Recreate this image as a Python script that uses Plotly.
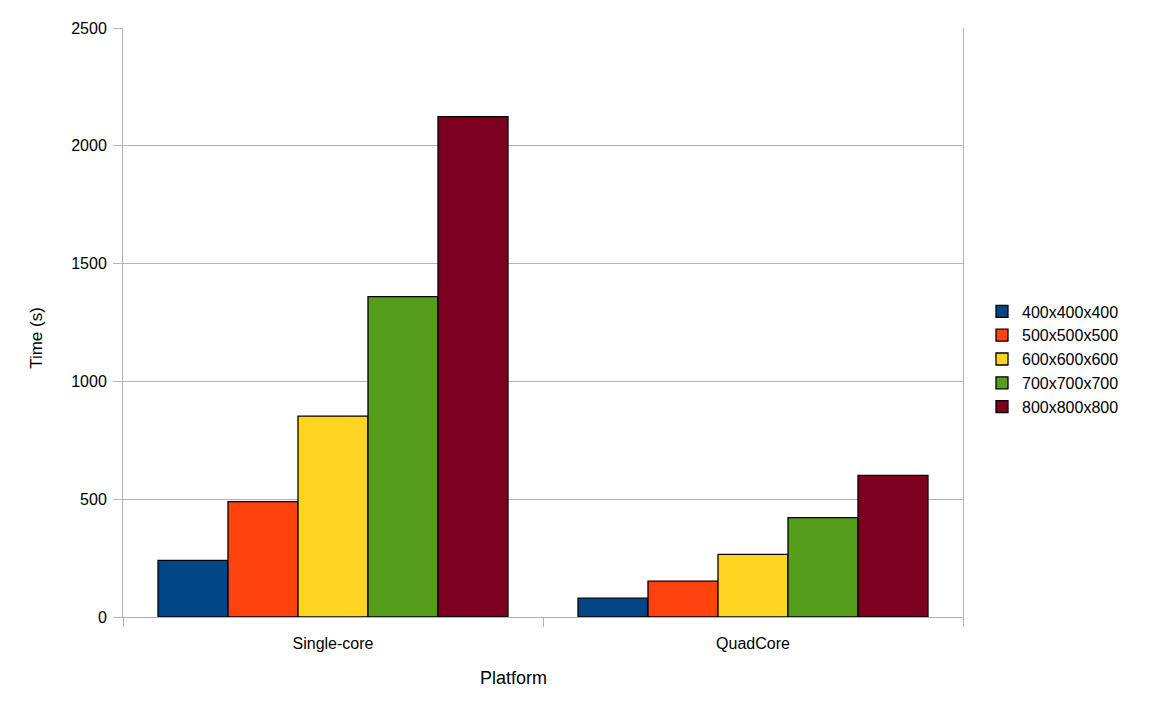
import plotly.graph_objects as go

platforms = ["Single-core", "QuadCore"]
sizes = ["400x400x400", "500x500x500", "600x600x600", "700x700x700", "800x800x800"]
times = {
    "400x400x400": [240, 80],
    "500x500x500": [490, 152],
    "600x600x600": [853, 266],
    "700x700x700": [1360, 422],
    "800x800x800": [2124, 601],
}
colors = ["#004586", "#ff420e", "#ffd320", "#579d1c", "#7e0021"]
y_ticks = [0, 500, 1000, 1500, 2000, 2500]

FONT = "Liberation Sans, Arial, sans-serif"

fig = go.Figure()
for s, c in zip(sizes, colors):
    fig.add_trace(go.Bar(
        x=platforms, y=times[s], name=s,
        marker=dict(color=c, line=dict(color="#000000", width=1.3)),
    ))

fig.update_layout(
    width=1144, height=712,
    barmode="group", bargap=0.1667, bargroupgap=0,
    plot_bgcolor="#ffffff", paper_bgcolor="#ffffff",
    margin=dict(l=115, r=189, t=14, b=103),
    font=dict(family=FONT, size=16, color="#000000"),
    showlegend=True,
    legend=dict(
        x=1 + (982 - 963) / 840, xanchor="left", y=0.438, yanchor="middle",
        font=dict(family=FONT, size=16, color="#000000"),
        itemwidth=30, tracegroupgap=0,
        bgcolor="rgba(0,0,0,0)",
    ),
    xaxis=dict(
        showline=True, linecolor="#b3b3b3", linewidth=1,
        ticks="outside", tickson="boundaries", ticklen=9, tickcolor="#b3b3b3",
        showgrid=False, tickfont=dict(size=16), zeroline=False,
        ticklabelstandoff=12,
    ),
    yaxis=dict(
        range=[0, 2500], tickvals=y_ticks,
        showline=True, linecolor="#b3b3b3", linewidth=1, mirror=True,
        ticks="outside", ticklen=9, tickcolor="#b3b3b3",
        showgrid=True, gridcolor="#b3b3b3", gridwidth=1,
        zeroline=False, tickfont=dict(size=16), ticklabelstandoff=3,
    ),
    annotations=[
        dict(text="Platform", xref="paper", yref="paper", x=(513.5 - 123) / 840,
             y=-(679 - 617) / 595, xanchor="center", yanchor="middle",
             showarrow=False, font=dict(size=18)),
        dict(text="Time (s)", xref="paper", yref="paper", x=-(123 - 37) / 840,
             y=(617 - 335) / 595, xanchor="center", yanchor="middle",
             showarrow=False, textangle=-90, font=dict(size=17)),
    ],
)

fig.write_html("out.html")
